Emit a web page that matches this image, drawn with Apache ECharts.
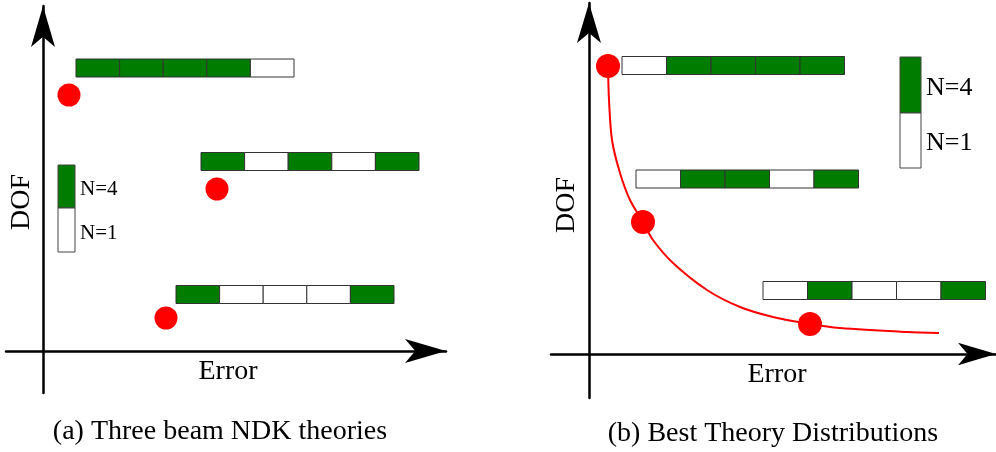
<!DOCTYPE html>
<html>
<head>
<meta charset="utf-8">
<script src="https://cdn.jsdelivr.net/npm/echarts@6/dist/echarts.min.js"></script>
<style>
  html, body { margin: 0; padding: 0; background: #fff; }
  #chart { width: 996px; height: 452px; }
</style>
</head>
<body>
<div id="chart"></div>
<script>
// (a) three beam NDK theories, Error / DOF measured from the origin
const theoryErrorA = [33, 158, 133];
const theoryDofA = [283, 189.5, 56.5];
const theoryCellsA = [[4, 4, 4, 4, 1], [4, 1, 4, 1, 4], [4, 1, 1, 1, 4]];
const pointsA = [[26, 256], [174, 162], [123, 33]];

// (b) best theory distributions
const theoryErrorB = [33, 47, 174];
const theoryDofB = [288.5, 175, 63.5];
const theoryCellsB = [[1, 4, 4, 4, 4], [1, 4, 4, 1, 4], [1, 4, 1, 1, 4]];
const pointsB = [[19, 288], [54, 132], [221, 30]];
const frontB = [
  [19, 288], [20, 254], [23, 214], [31, 181], [41, 154], [54, 132], [64, 114],
  [84, 91], [118, 64], [151, 47], [184, 37], [221, 30], [251, 26], [318, 22], [350, 21]
];

const keyN = [4, 1];

const GREEN = '#007d00';
const RED = '#ff0000';
const FONT = 'Liberation Serif';

// width of one beam cell in error units
const CELL_A = 43.6;
const CELL_B = 44.5;

function cellData(starts, dofs, cells, w) {
  const out = [];
  starts.forEach(function (x0, i) {
    cells[i].forEach(function (n, j) {
      out.push([x0 + j * w, x0 + (j + 1) * w, dofs[i], n]);
    });
  });
  return out;
}

function keyData(x0, x1, top, mid, bottom) {
  return [[x0, x1, top, mid, keyN[0]], [x0, x1, mid, bottom, keyN[1]]];
}

function renderCell(params, api) {
  const a = api.coord([api.value(0), api.value(2)]);
  const b = api.coord([api.value(1), api.value(2)]);
  return {
    type: 'rect',
    shape: { x: a[0], y: a[1] - 9, width: b[0] - a[0], height: 18 },
    style: { fill: api.value(3) === 4 ? GREEN : '#fff', stroke: '#333', lineWidth: 1 }
  };
}

function makeKey(fontSize) {
  return function (params, api) {
    const p0 = api.coord([api.value(0), api.value(2)]);
    const p1 = api.coord([api.value(1), api.value(3)]);
    const n = api.value(4);
    return {
      type: 'group',
      children: [
        {
          type: 'rect',
          shape: { x: p0[0], y: p0[1], width: p1[0] - p0[0], height: p1[1] - p0[1] },
          style: { fill: n === 4 ? GREEN : '#fff', stroke: '#444', lineWidth: 1 }
        },
        {
          type: 'text',
          style: {
            text: 'N=' + n,
            x: p1[0] + 5,
            y: (p0[1] + p1[1]) / 2 + 3,
            verticalAlign: 'middle',
            fontFamily: FONT,
            fontSize: fontSize,
            fill: '#000'
          }
        }
      ]
    };
  };
}

function axisLine(len, width) {
  return {
    onZero: true,
    symbol: ['none', 'arrow'],
    symbolSize: [width, len],
    lineStyle: { color: '#000', width: 2.5 }
  };
}

const bare = { axisTick: { show: false }, axisLabel: { show: false }, splitLine: { show: false } };

function label(text, x, y, rotate) {
  return {
    type: 'text', x: x, y: y, rotation: rotate ? Math.PI / 2 : 0,
    style: { text: text, textAlign: 'center', verticalAlign: 'middle', fontFamily: FONT, fontSize: 28, fill: '#000' }
  };
}

const chart = echarts.init(document.getElementById('chart'));
chart.setOption({
  backgroundColor: '#fff',
  animation: false,
  grid: [
    { left: 6, right: 550, top: 6, bottom: 59, outerBoundsMode: 'none' },
    { left: 551, right: 0, top: 3, bottom: 54, outerBoundsMode: 'none' }
  ],
  xAxis: [
    Object.assign({ gridIndex: 0, type: 'value', min: -37, max: 403, axisLine: axisLine(41, 18) }, bare),
    Object.assign({ gridIndex: 1, type: 'value', min: -38, max: 407, axisLine: axisLine(38, 17) }, bare)
  ],
  yAxis: [
    Object.assign({ gridIndex: 0, type: 'value', min: -42, max: 345, axisLine: axisLine(41, 18) }, bare),
    Object.assign({ gridIndex: 1, type: 'value', min: -44, max: 351, axisLine: axisLine(40, 18) }, bare)
  ],
  graphic: [
    label('Error', 228, 372),
    label('DOF', 22, 202, true),
    label('Error', 777, 375),
    label('DOF', 567, 205, true),
    label('(a) Three beam NDK theories', 220, 432),
    label('(b) Best Theory Distributions', 773, 434)
  ],
  series: [
    {
      type: 'custom', xAxisIndex: 0, yAxisIndex: 0, silent: true,
      data: cellData(theoryErrorA, theoryDofA, theoryCellsA, CELL_A), renderItem: renderCell
    },
    {
      type: 'custom', xAxisIndex: 0, yAxisIndex: 0, silent: true,
      data: keyData(15, 32, 186, 143, 99), renderItem: makeKey(21)
    },
    {
      type: 'scatter', xAxisIndex: 0, yAxisIndex: 0, silent: true,
      data: pointsA, symbolSize: 23, itemStyle: { color: RED, opacity: 1 }
    },
    {
      type: 'custom', xAxisIndex: 1, yAxisIndex: 1, silent: true,
      data: cellData(theoryErrorB, theoryDofB, theoryCellsB, CELL_B), renderItem: renderCell
    },
    {
      type: 'custom', xAxisIndex: 1, yAxisIndex: 1, silent: true,
      data: keyData(311, 332, 297, 241, 186), renderItem: makeKey(26)
    },
    {
      type: 'line', xAxisIndex: 1, yAxisIndex: 1, silent: true,
      data: frontB, smooth: 0.3, showSymbol: false, lineStyle: { color: RED, width: 2 }
    },
    {
      type: 'scatter', xAxisIndex: 1, yAxisIndex: 1, silent: true,
      data: pointsB, symbolSize: 24, itemStyle: { color: RED, opacity: 1 }, z: 3
    }
  ]
});
</script>
</body>
</html>
